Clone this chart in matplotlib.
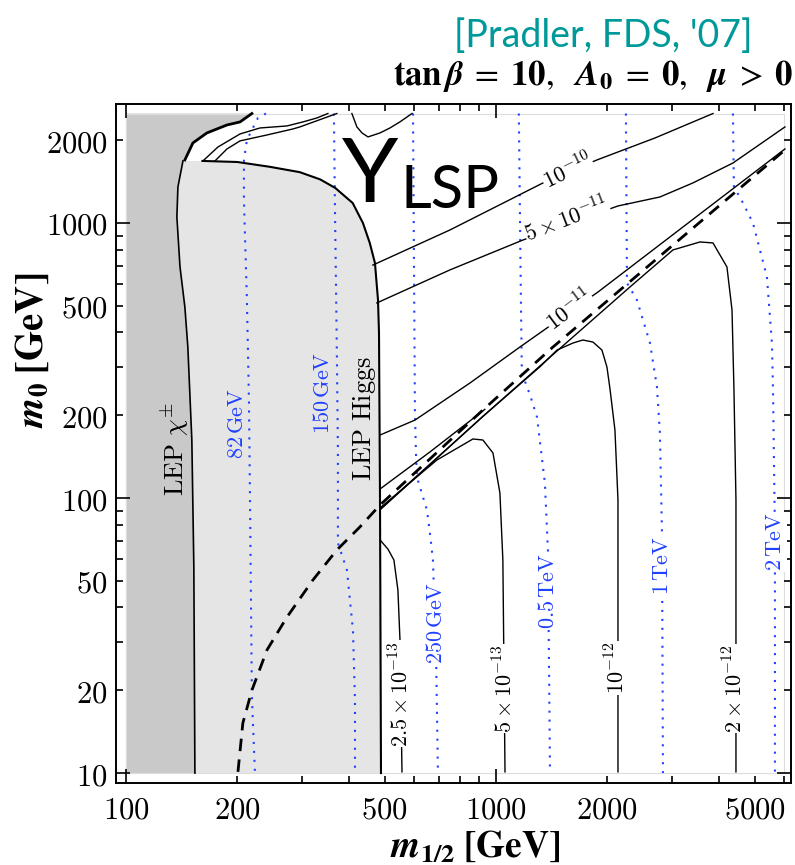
import matplotlib
matplotlib.use("Agg")
import matplotlib.pyplot as plt

plt.rcParams['mathtext.fontset'] = 'cm'
plt.rcParams['font.family'] = 'DejaVu Serif'

# excluded regions (m_1/2, m_0) in GeV
chi_m12 = [153.6, 152.6, 150.7, 147.0, 144.3, 140.0, 137.3, 138.2, 142.6]
chi_m0 = [10, 56, 162.5, 354, 495, 692, 1052, 1352, 1681]
corner_m12 = [144.3, 151.7, 165.5, 187.5, 203.4, 219]
corner_m0 = [1695, 1954, 2125, 2271, 2330, 2500]
higgs_m12 = [161, 200, 245, 295, 335, 368, 410, 437, 456, 471, 480, 483, 486, 489]
higgs_m0 = [1681, 1666, 1600, 1530, 1440, 1340, 1182, 1000, 846, 715, 525, 398, 100, 10]

# m_stau = m_neutralino
degen_m12 = [200.8, 207, 219, 240.5, 272.4, 320, 371.5, 428.6, 486, 922, 1426, 6040]
degen_m0 = [10.1, 15.2, 20, 28, 36.9, 50.3, 64.7, 78.4, 94.3, 208.9, 354, 1843]

# Y_NLSP contours
y1e10_m12 = [465, 751, 1340, 1875, 2690, 3860]
y1e10_m0 = [703, 943, 1398, 1695, 2037, 2500]
y5e11_m12 = [476.6, 751, 1183, 2137, 2774, 3406, 4370, 6040]
y5e11_m0 = [512, 675, 867, 1153, 1243, 1398, 1652, 2234]
y1e11_m12 = [486, 604, 851, 1161, 1887, 6040]
y1e11_m0 = [169.4, 192, 262, 354, 561, 1858]
yA_m12 = [486, 663, 933]
yA_m0 = [107.8, 147, 210]
y25e13_m12 = [486, 510.6, 530, 543.3, 550.3, 557.3]
y25e13_m0 = [70.4, 65.2, 59.5, 46.3, 30.5, 10.1]
y5e13_m12 = [486, 692.7, 866.5, 922, 981.6, 1025, 1044, 1058]
y5e13_m0 = [92, 137.5, 163.9, 162.5, 145.8, 104.3, 59.5, 10.1]
y1e12_m12 = [486, 922, 1315, 1462, 1615, 1718, 1829, 1934, 1995, 2032, 2097, 2137, 2137]
y1e12_m0 = [91, 198, 300, 345, 366, 375.4, 369, 345, 299.5, 251, 176.7, 98.3, 10.1]
y2e12_m12 = [486, 922, 1315, 2302, 3009, 3560, 3860, 4210, 4345, 4397, 4453, 4453]
y2e12_m0 = [90.5, 198, 302, 585, 798, 853, 846, 692, 483, 251, 98.3, 10.1]

# contours in the upper left corner
tl_upper_m12 = [161.5, 177.3, 203.4, 230.2, 272.4, 300.8, 328.2, 351.4]
tl_upper_m0 = [1681, 1889, 2107, 2215, 2253, 2330, 2409, 2500]
tl_lower_m12 = [174, 187.5, 203.4, 240.5, 282.7, 295, 371.5]
tl_lower_m0 = [1681, 1858, 1988, 2089, 2197, 2234, 2500]
blob_m12 = [408, 421, 434.5, 451, 486, 517, 550, 593]
blob_m0 = [2500, 2234, 2125, 2055, 2125, 2215, 2330, 2500]

# stau mass contours
s82_m12 = [239, 227.4, 219, 212.3, 208.4, 208.4, 212.3, 215, 216.4, 219, 223.2]
s82_m0 = [2500, 2409, 2179, 2003, 1695, 1212, 525, 227, 100.8, 18.9, 10]
s150_m12 = [364.8, 367, 371.5, 374, 374, 395.6, 410.7, 415.9, 415.9]
s150_m0 = [2500, 1212, 345, 149.5, 68.6, 54.7, 33.1, 18.4, 10]
s250_m12 = [596.8, 604, 607.8, 611.6, 623, 651, 663, 675.6, 688.6, 697]
s250_m0 = [2500, 208.9, 145.8, 119.2, 109.6, 90.4, 74.6, 59.5, 28, 10]
s500_m12 = [1153, 1168, 1175, 1236, 1291, 1356, 1382, 1400]
s500_m0 = [2500, 525, 285, 237, 197, 113.4, 64.7, 10]
s1000_m12 = [2245, 2260, 2404, 2608, 2724, 2774, 2810, 2827]
s1000_m0 = [2500, 605, 525, 366, 253, 172, 74.6, 10]
s2000_m12 = [4370, 4397, 4565, 4950, 5400, 5570, 5607, 5675, 5675]
s2000_m0 = [2500, 1340, 1243, 1000, 636, 366, 251, 74.6, 10]

xticks_major = [100, 1000]
xticks_minor = [200, 300, 400, 500, 600, 700, 800, 900, 2000, 3000, 4000, 5000, 6000]
xlabels_minor = ['200', '', '', '500', '', '', '', '', '2000', '', '', '5000', '']
yticks_major = [10, 100, 1000]
yticks_minor = [20, 30, 40, 50, 60, 70, 80, 90, 200, 300, 400, 500, 600, 700, 800, 900, 2000]
ylabels_minor = ['20', '', '', '50', '', '', '', '', '200', '', '', '500', '', '', '', '', '2000']

dark_grey = '#c9c9c9'
light_grey = '#e5e5e5'
blue = '#2040ff'

fig = plt.figure(figsize=(7.95, 8.65), dpi=100)
ax = fig.add_axes([0.1459, 0.0948, 0.849, 0.785])
ax.set_xscale('log')
ax.set_yscale('log')

# grey excluded regions
ax.fill([100] + chi_m12 + corner_m12 + [100], [10] + chi_m0 + corner_m0 + [2500],
        color=dark_grey, lw=0, zorder=1)
ax.fill(chi_m12 + higgs_m12, chi_m0 + higgs_m0, color=light_grey, lw=0, zorder=1)
ax.plot([100, 6000, 6000, 100, 100], [10, 10, 2500, 2500, 10], color='#dddddd', lw=0.8, zorder=1)

ax.plot(chi_m12, chi_m0, color='k', lw=1.2, zorder=3)
ax.plot(corner_m12, corner_m0, color='k', lw=2.0, zorder=3)
ax.plot(higgs_m12, higgs_m0, color='k', lw=1.5, zorder=3)

# stau mass lines
for xs, ys in [(s82_m12, s82_m0), (s150_m12, s150_m0), (s250_m12, s250_m0),
               (s500_m12, s500_m0), (s1000_m12, s1000_m0), (s2000_m12, s2000_m0)]:
    ax.plot(xs, ys, color=blue, lw=1.5, ls=(0, (1, 3.3)), zorder=2)

# Y contours
for xs, ys in [(y1e10_m12, y1e10_m0), (y5e11_m12, y5e11_m0), (y1e11_m12, y1e11_m0),
               (yA_m12, yA_m0), (y25e13_m12, y25e13_m0), (y5e13_m12, y5e13_m0),
               (y1e12_m12, y1e12_m0), (y2e12_m12, y2e12_m0),
               (tl_upper_m12, tl_upper_m0), (tl_lower_m12, tl_lower_m0), (blob_m12, blob_m0)]:
    ax.plot(xs, ys, color='k', lw=1.0, zorder=3)

ax.plot(degen_m12, degen_m0, color='k', lw=2.0, ls=(0, (4.5, 3)), zorder=4)

# inline labels
box = dict(facecolor='white', edgecolor='none', pad=0.5)
ax.text(1565, 1533, r'$10^{-10}$', fontsize=16, rotation=26, ha='center', va='center',
        rotation_mode='anchor', bbox=box, zorder=5)
ax.text(1556, 1025, r'$5\times10^{-11}$', fontsize=16, rotation=21, ha='center', va='center',
        rotation_mode='anchor', bbox=box, zorder=5)
ax.text(1585, 479, r'$10^{-11}$', fontsize=16, rotation=37, ha='center', va='center',
        rotation_mode='anchor', bbox=box, zorder=5)
for x, y, s in [(557, 19.4, r'$2.5\times10^{-13}$'), (1058, 20.3, r'$5\times10^{-13}$'),
                (2137, 24.1, r'$10^{-12}$'), (4453, 20.3, r'$2\times10^{-12}$')]:
    ax.text(x, y, s, fontsize=16, rotation=90, ha='center', va='center',
            rotation_mode='anchor', bbox=box, zorder=5)
for x, y, s in [(688, 35.1, r'$250\,\mathrm{GeV}$'), (1382, 45.9, r'$0.5\,\mathrm{TeV}$'),
                (2810, 56.6, r'$1\,\mathrm{TeV}$'), (5675, 69.2, r'$2\,\mathrm{TeV}$')]:
    ax.text(x, y, s, fontsize=16, rotation=90, ha='center', va='center', color=blue,
            rotation_mode='anchor', bbox=box, zorder=5)
ax.text(199.5, 187, r'$82\,\mathrm{GeV}$', fontsize=16, rotation=90, ha='center',
        va='center', color=blue, zorder=5)
ax.text(340.7, 241, r'$150\,\mathrm{GeV}$', fontsize=16, rotation=90, ha='center',
        va='center', color=blue, zorder=5)
ax.text(135.7, 150.7, r'$\mathrm{LEP}\ \chi^{\pm}$', fontsize=19, rotation=90, ha='center',
        va='center', zorder=5)
ax.text(442.6, 195.4, r'$\mathrm{LEP\ Higgs}$', fontsize=19, rotation=90, ha='center',
        va='center', zorder=5)

# axes, ticks
ax.set_xlim(94, 6270)
ax.set_ylim(9.2, 2708)
ax.set_xticks(xticks_major)
ax.set_xticklabels(['$%d$' % v for v in xticks_major])
ax.set_xticks(xticks_minor, minor=True)
ax.set_xticklabels(['$%s$' % s if s else '' for s in xlabels_minor], minor=True)
ax.set_yticks(yticks_major)
ax.set_yticklabels(['$%d$' % v for v in yticks_major])
ax.set_yticks(yticks_minor, minor=True)
ax.set_yticklabels(['$%s$' % s if s else '' for s in ylabels_minor], minor=True)
ax.tick_params(which='both', direction='in', top=True, right=True, labelsize=22, width=1.2)
ax.tick_params(which='major', length=10)
ax.tick_params(which='minor', length=5)
ax.tick_params(axis='x', which='both', pad=8)
ax.tick_params(axis='y', which='both', pad=6)
for sp in ax.spines.values():
    sp.set_linewidth(1.4)

fig.text(475 / 795, 1 - 847 / 865, r'$\boldsymbol{m}_{\mathbf{1/2}}\;\mathbf{[GeV]}$',
         fontsize=27, ha='center', va='center', math_fontfamily='stix')
fig.text(32 / 795, 1 - 350 / 865, r'$\boldsymbol{m}_{\mathbf{0}}\;\mathbf{[GeV]}$',
         fontsize=28, ha='center', va='center', rotation=90, math_fontfamily='stix')
fig.text(0.998, 1 - 76 / 865,
         r'$\mathbf{tan}\,\boldsymbol{\beta}\;=\;\mathbf{10},\ \ \boldsymbol{A}_{\mathbf{0}}\;=\;\mathbf{0},'
         r'\ \ \boldsymbol{\mu}\;>\;\mathbf{0}$',
         fontsize=25, ha='right', va='center', math_fontfamily='stix')
fig.text(752 / 795, 1 - 36 / 865, "[Pradler, FDS, '07]", fontsize=27, family='Lato',
         color='#009999', ha='right', va='center')
fig.text(342 / 795, 1 - 202 / 865, 'Y', fontsize=65, family='Lato', va='baseline')
fig.text(400 / 795, 1 - 208 / 865, 'LSP', fontsize=43, family='Lato', va='baseline')

fig.savefig('out.png', dpi=100)
